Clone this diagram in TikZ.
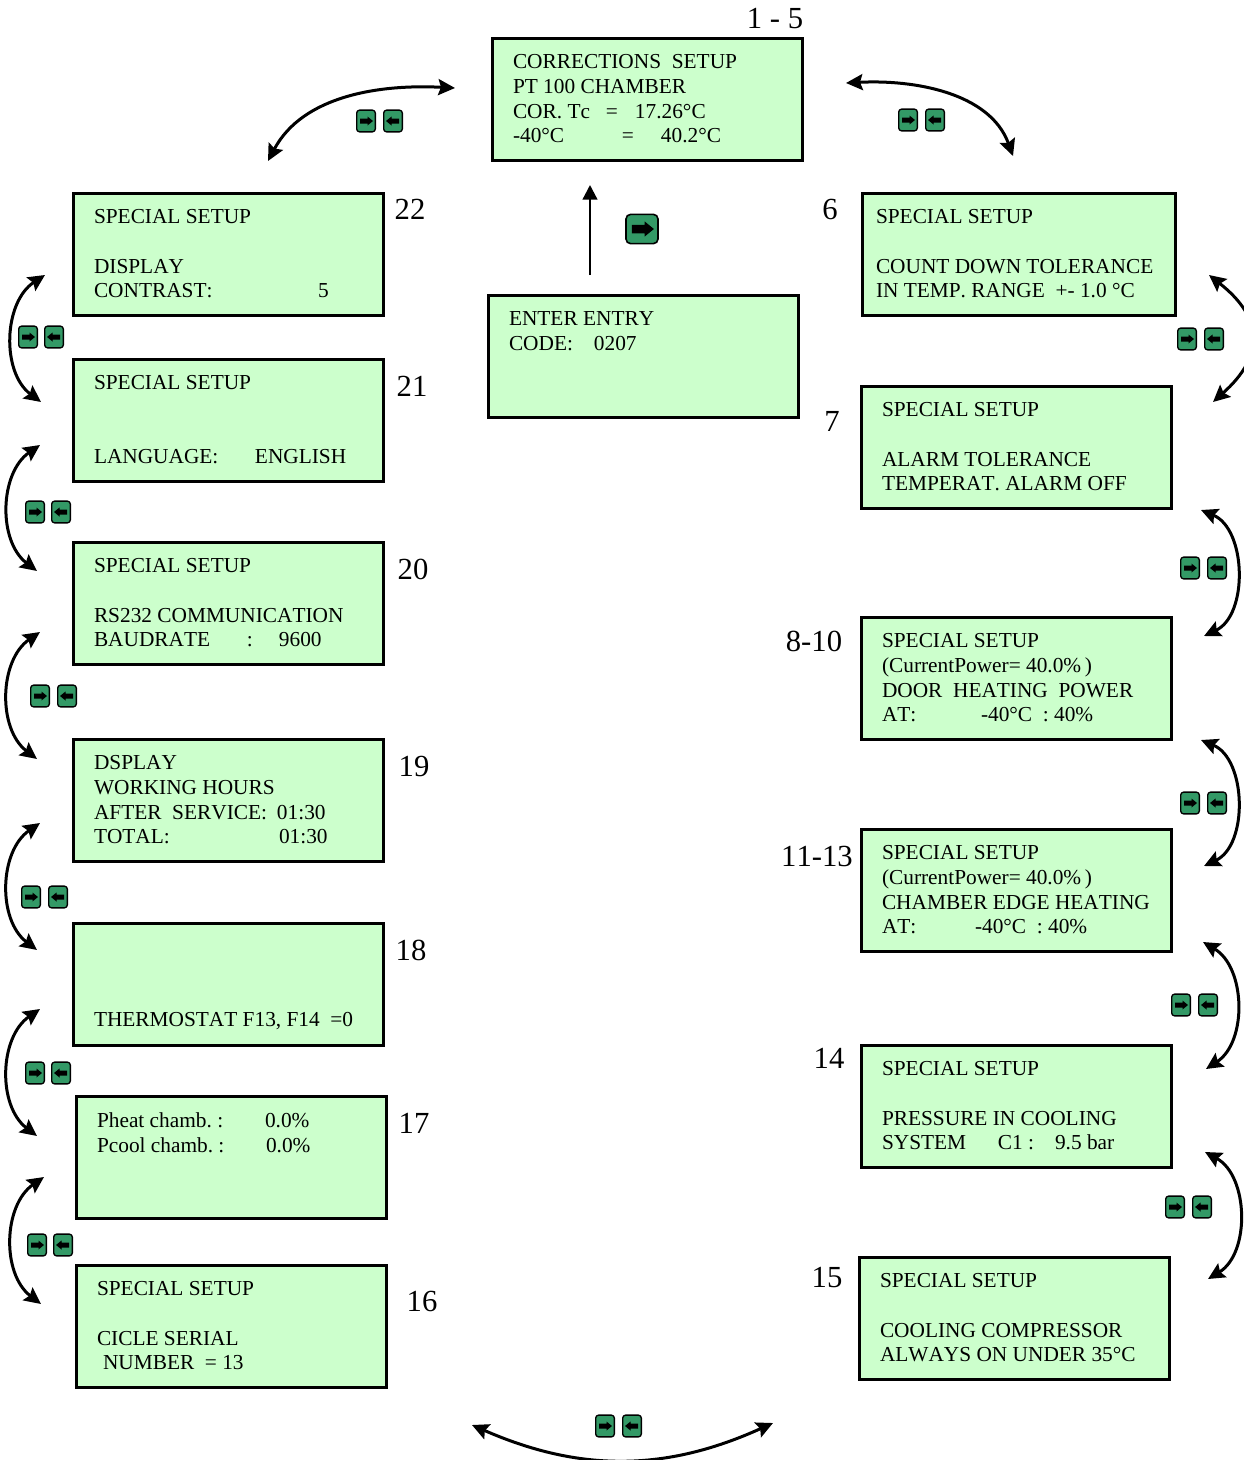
\documentclass[tikz,border=0pt]{standalone}
\usepackage{fontspec}
\setmainfont[Kerning=Off]{Liberation Serif}
\frenchspacing
\usetikzlibrary{arrows.meta}
\definecolor{lcdgreen}{HTML}{CCFFCC}
\definecolor{keygreen}{HTML}{339966}
% text cell of a given width in reference pixels
\newcommand{\lcdtab}[2]{\makebox[#1\dimexpr.75pt\relax][l]{#2}}
\tikzset{
    lcd/.style={draw, line width=2.25pt, fill=lcdgreen, anchor=north west, outer sep=0pt,
        inner xsep=15.75pt, inner ysep=0pt, text width=201pt, minimum height=91.5pt,
        align=flush left, font=\fontsize{16}{18.5}\selectfont},
    tag/.style={font=\fontsize{23}{23}\selectfont, inner sep=0pt},
    key/.style={draw, line width=1pt, fill=keygreen, rounded corners=2.2pt, inner sep=0pt,
        minimum width=14pt, minimum height=16.3pt,
        path picture={\fill[black, sharp corners, shift={(path picture bounding box.center)}, x=#1*.75pt, y=#1*.75pt]
            (-6,-2.5) -- (1.5,-2.5) -- (1.5,-4.5) -- (7,0) -- (1.5,4.5) -- (1.5,2.5) -- (-6,2.5) -- cycle;}},
    swing/.style={line width=2.25pt, {Stealth[length=12.5pt,width=12pt,inset=2pt]}-{Stealth[length=12.5pt,width=12pt,inset=2pt]}},
}
\begin{document}
\begin{tikzpicture}[x=.75pt, y=-.75pt]
    \useasboundingbox (0,0) rectangle (1244,1460);

    % Top and entry boxes
    \node[lcd] (cor) at (492,38) {CORRECTIONS\ \ SETUP\\PT 100 CHAMBER\\\lcdtab{93}{COR. Tc}\lcdtab{29}{=}17.26°C\\\lcdtab{109}{-40°C}\lcdtab{39}{=}40.2°C};
    \node[lcd] (entry) at (488,295) {ENTER ENTRY\\\lcdtab{85}{CODE:}0207\\~\\~};

    % Left column
    \node[lcd] (b22) at (73,193) {SPECIAL SETUP\\~\\DISPLAY\\\lcdtab{224}{CONTRAST:}5};
    \node[lcd] (b21) at (73,359) {SPECIAL SETUP\\~\\~\\\lcdtab{161}{LANGUAGE:}ENGLISH};
    \node[lcd] (b20) at (73,542) {SPECIAL SETUP\\~\\RS232 COMMUNICATION\\\lcdtab{153}{BAUDRATE}\lcdtab{32}{:}9600};
    \node[lcd] (b19) at (73,739) {DSPLAY\\WORKING HOURS\\\lcdtab{183}{AFTER\ \ SERVICE:}01:30\\\lcdtab{185}{TOTAL:}01:30};
    \node[lcd] (b18) at (73,923) {\phantom{S}\\~\\~\\THERMOSTAT F13, F14\ \ =0};
    \node[lcd] (b17) at (76,1096) {\lcdtab{168}{Pheat chamb. :}0.0\%\\\lcdtab{169}{Pcool chamb. :}0.0\%\\~\\~};
    \node[lcd] (b16) at (76,1265) {SPECIAL SETUP\\~\\CICLE SERIAL\\\hspace*{4.5pt}NUMBER\ \ = 13};

    % Right column
    \node[lcd, inner xsep=10.5pt, text width=213.75pt] (b6) at (862,193) {SPECIAL SETUP\\~\\COUNT DOWN TOLERANCE\\IN TEMP. RANGE\ \ +- 1.0 °C};
    \node[lcd] (b7) at (861,386) {SPECIAL SETUP\\~\\ALARM TOLERANCE\\TEMPERAT. ALARM OFF};
    \node[lcd] (b8) at (861,617) {SPECIAL SETUP\\(CurrentPower= 40.0\%\,)\\DOOR\ \ HEATING\ \ POWER\\\lcdtab{99}{AT:}-40°C\ \ : 40\%};
    \node[lcd] (b11) at (861,829) {SPECIAL SETUP\\(CurrentPower= 40.0\%\,)\\CHAMBER EDGE HEATING\\\lcdtab{93}{AT:}-40°C\ \ : 40\%};
    \node[lcd] (b14) at (861,1045) {SPECIAL SETUP\\~\\PRESSURE IN COOLING\\\lcdtab{116}{SYSTEM}\lcdtab{57}{C1 :}9.5 bar};
    \node[lcd] (b15) at (859,1257) {SPECIAL SETUP\\~\\COOLING COMPRESSOR\\ALWAYS ON UNDER 35°C};

    % Box numbers
    \node[tag] (t1) at (775,19) {1 - 5};
    \node[tag] (t22) at (410,209) {22};
    \node[tag] (t21) at (412,386) {21};
    \node[tag] (t20) at (413,569) {20};
    \node[tag] (t19) at (414,766) {19};
    \node[tag] (t18) at (411,950) {18};
    \node[tag] (t17) at (414,1123) {17};
    \node[tag] (t16) at (422,1301) {16};
    \node[tag] (t6) at (830,209) {6};
    \node[tag] (t7) at (832,421) {7};
    \node[tag] (t8) at (814,641) {8-10};
    \node[tag] (t11) at (817,856) {11-13};
    \node[tag] (t14) at (829,1058) {14};
    \node[tag] (t15) at (827,1278) {15};

    % Key pairs
    \foreach \name/\xa/\xb/\yy in {top1/366/393/121, top2/908/935/120,
        left1/28/54/337, left2/35/61/512, left3/40/67/696, left4/31/58/897, left5/35/61/1073, left6/37/63/1245,
        right1/1187/1214/339, right2/1190/1217/568, right3/1190/1217/803, right4/1181/1208/1005, right5/1175/1202/1207,
        bottom/605/632/1426}{
        \node[key=1] (\name r) at (\xa,\yy) {};
        \node[key=-1] (\name l) at (\xb,\yy) {};
    }
    \node[key=1.7, line width=1.2pt, rounded corners=3.5pt, minimum width=24pt, minimum height=22pt] (enter) at (642,229) {};

    % Entry arrow
    \coordinate (e1) at (590,275);
    \coordinate (e2) at (590,185);
    \draw[line width=1.7pt, -{Triangle[length=11pt,width=11pt]}] (e1) -- (e2);

    % Top swings
    \coordinate (s1) at (455,88);
    \coordinate (s2) at (268,161);
    \coordinate (s3) at (846,83);
    \coordinate (s4) at (1013,156);
    \draw[swing] (s1) to[out=177, in=62, looseness=.95] (s2);
    \draw[swing] (s3) to[out=3, in=110, looseness=.95] (s4);

    % Left swings
    \foreach \n/\xa/\ya/\xb/\yb/\bend in {1/45/275/41/402/55, 2/40/445/37/571/54, 3/40/632/37/759/54, 4/40/823/37/950/54, 5/40/1009/37/1136/54, 6/44/1177/41/1304/54}{
        \coordinate (la\n) at (\xa,\ya);
        \coordinate (lb\n) at (\xb,\yb);
        \draw[swing] (la\n) to[bend right=\bend] (lb\n);
    }

    % Right swings
    \foreach \n/\xa/\ya/\xb/\yb/\bend/\loose in {1/1209/275/1213/402/50/1.4, 2/1201/510/1204/636/66/1, 3/1201/740/1204/866/66/1, 4/1203/942/1206/1069/58/1, 5/1205/1152/1208/1279/60/1}{
        \coordinate (ra\n) at (\xa,\ya);
        \coordinate (rb\n) at (\xb,\yb);
        \draw[swing] (ra\n) to[bend left=\bend, looseness=\loose] (rb\n);
    }

    % Bottom swing
    \coordinate (z1) at (472,1425);
    \coordinate (z2) at (773,1423);
    \draw[swing] (z1) to[bend right=24] (z2);
\end{tikzpicture}
\end{document}
